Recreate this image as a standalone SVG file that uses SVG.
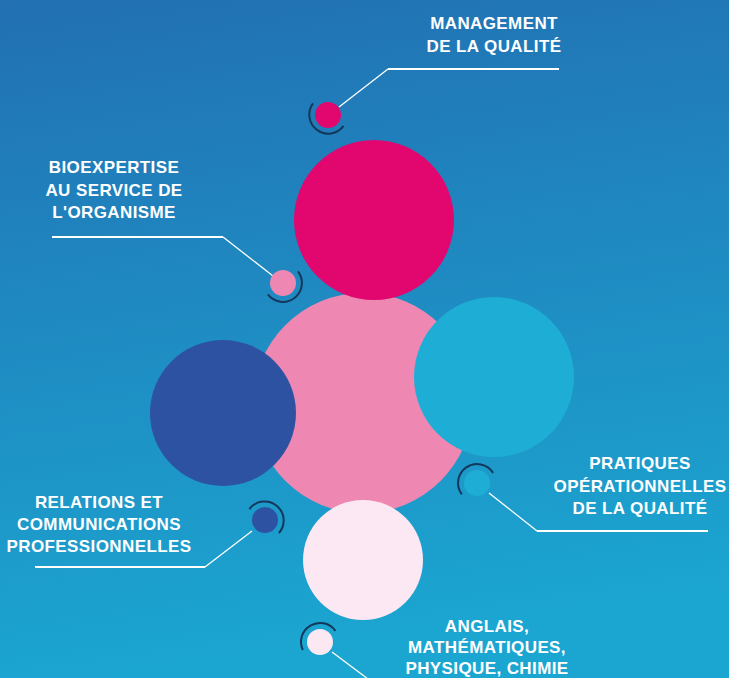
<svg xmlns="http://www.w3.org/2000/svg" width="729" height="678" viewBox="0 0 729 678">
  <defs>
    <linearGradient id="bg" x1="0" y1="0" x2="0.15" y2="1">
      <stop offset="0" stop-color="#2270b2"/>
      <stop offset="1" stop-color="#1ba6d1"/>
    </linearGradient>
    <style>
      .lbl { font-family: "Liberation Sans", Arial, sans-serif; font-weight: bold; font-size: 17px; fill: #ffffff; text-anchor: middle; letter-spacing: 0.4px; }
      .lead { fill: none; stroke: #ffffff; stroke-width: 1.3; }
      .shelf { fill: none; stroke: #ffffff; stroke-width: 2; }
      .arc { fill: none; stroke: #14375a; stroke-width: 2; }
    </style>
  </defs>
  <rect x="0" y="0" width="729" height="678" fill="url(#bg)"/>

  <g id="big-circles">
    <circle id="c-pink" cx="363" cy="403" r="110" fill="#ee88b2"/>
    <circle id="c-magenta" cx="374" cy="220" r="80" fill="#e2066f"/>
    <circle id="c-navy" cx="223" cy="413" r="73" fill="#2e52a2"/>
    <circle id="c-cyan" cx="494" cy="377" r="80" fill="#1eaed5"/>
    <circle id="c-light" cx="363" cy="560" r="60" fill="#fbe8f2"/>
  </g>

  <g id="connectors">
    <polyline class="lead" points="339,107 388,69"/>
    <line class="shelf" x1="388" y1="69" x2="559" y2="69"/>
    <line class="shelf" x1="52" y1="237" x2="223" y2="237"/>
    <polyline class="lead" points="223,237 273,276"/>
    <polyline class="lead" points="489,493 537,531"/>
    <line class="shelf" x1="537" y1="531" x2="708" y2="531"/>
    <polyline class="lead" points="252,531 205,567"/>
    <line class="shelf" x1="35" y1="567" x2="205" y2="567"/>
    <polyline class="lead" points="332,652 372,682"/>
  </g>

  <g id="node-management">
    <path class="arc" d="M313,103.3 A19,19 0 1 0 343.6,125.9"/>
    <circle cx="328" cy="115" r="13" fill="#e2066f"/>
    <text class="lbl" x="494" y="29">MANAGEMENT</text>
    <text class="lbl" x="494" y="52">DE LA QUALITÉ</text>
  </g>

  <g id="node-bioexpertise">
    <path class="arc" d="M298,271.3 A19,19 0 1 1 267.8,294.4"/>
    <circle cx="283" cy="283" r="13" fill="#ee88b2"/>
    <text class="lbl" x="114" y="173">BIOEXPERTISE</text>
    <text class="lbl" x="114" y="196">AU SERVICE DE</text>
    <text class="lbl" x="114" y="218">L'ORGANISME</text>
  </g>

  <g id="node-pratiques">
    <path class="arc" d="M493.1,472.9 A19,19 0 1 0 461.8,494.4"/>
    <circle cx="477" cy="483" r="13" fill="#1eaed5"/>
    <text class="lbl" x="640" y="469">PRATIQUES</text>
    <text class="lbl" x="640" y="492">OPÉRATIONNELLES</text>
    <text class="lbl" x="640" y="514">DE LA QUALITÉ</text>
  </g>

  <g id="node-relations">
    <path class="arc" d="M249.4,509.1 A19,19 0 1 1 278.9,533"/>
    <circle cx="265" cy="520" r="13" fill="#2e52a2"/>
    <text class="lbl" x="99" y="508">RELATIONS ET</text>
    <text class="lbl" x="99" y="530">COMMUNICATIONS</text>
    <text class="lbl" x="99" y="552">PROFESSIONNELLES</text>
  </g>

  <g id="node-anglais">
    <path class="arc" d="M335.4,630.8 A19,19 0 0 0 302.8,650"/>
    <circle cx="320" cy="642" r="13" fill="#fbe8f2"/>
    <text class="lbl" x="487" y="632">ANGLAIS,</text>
    <text class="lbl" x="487" y="653">MATHÉMATIQUES,</text>
    <text class="lbl" x="487" y="674">PHYSIQUE, CHIMIE</text>
  </g>
</svg>
